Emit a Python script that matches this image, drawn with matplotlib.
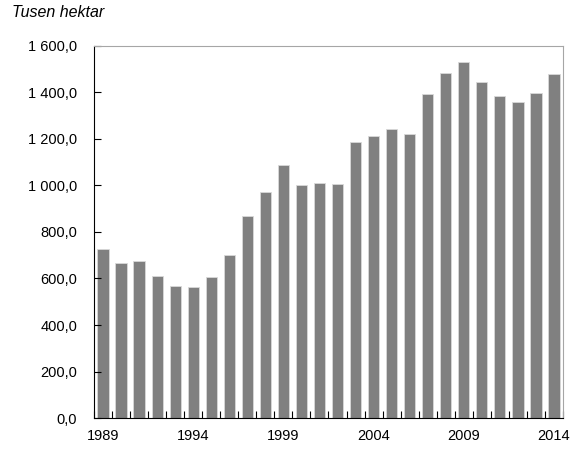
import matplotlib.pyplot as plt
import numpy as np

years = list(range(1989, 2015))
values = [725, 668, 675, 611, 566, 562, 606, 701, 867, 972, 1088, 1002, 1009,
          1006, 1188, 1213, 1244, 1223, 1394, 1485, 1531, 1444, 1386, 1359, 1398, 1480]
label_years = [1989, 1994, 1999, 2004, 2009, 2014]
y_ticks = [0, 200, 400, 600, 800, 1000, 1200, 1400, 1600]


def fmt(v):
    # norsk format: mellomrom som tusenskille, komma som desimaltegn
    s = f"{v:,.1f}"
    return s.replace(",", " ").replace(".", ",")


font = ['Liberation Sans', 'DejaVu Sans']

fig = plt.figure(figsize=(5.72, 4.5), dpi=100)
ax = fig.add_axes([0.1643, 0.0711, 0.82, 0.8267])

x = np.arange(len(years))
ax.bar(x, values, width=0.62, color='#808080', edgecolor='#d9d9d9', linewidth=0.6)

ax.set_xlim(-0.5, len(years) - 0.5)
ax.set_ylim(0, 1600)

# tick marks on category boundaries, labels on selected years
ax.set_xticks(np.arange(-0.5, len(years), 1.0))
ax.set_xticklabels([])
ax.tick_params(axis='x', which='major', direction='in', length=5, width=0.8)
ax.set_xticks([years.index(y) for y in label_years], minor=True)
ax.set_xticklabels([str(y) for y in label_years], minor=True, fontsize=10.5, family=font)
ax.tick_params(axis='x', which='minor', length=0, pad=8)

ax.set_yticks(y_ticks)
ax.set_yticklabels([fmt(v) for v in y_ticks], fontsize=10.5, family=font)
ax.tick_params(axis='y', direction='in', length=5, width=0.8, pad=12)

ax.spines['left'].set_color('black')
ax.spines['bottom'].set_color('black')
ax.spines['top'].set_color('#a6a6a6')
ax.spines['right'].set_color('#a6a6a6')

fig.text(0.021, 0.972, 'Tusen hektar', fontsize=11.5, style='italic', family=font,
         va='center', ha='left')

fig.savefig('out.png', dpi=100)
